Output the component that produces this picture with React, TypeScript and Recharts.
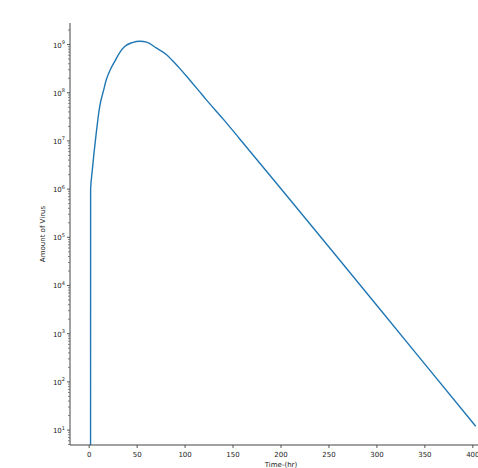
import { LineChart, Line, XAxis, YAxis, Label } from "recharts";

// values (hours, virus count)
const TIME_HR = [1.4, 1.5, 3, 5, 7, 11, 15, 18, 22, 27, 32, 37, 45, 53, 60, 70, 80, 88, 96, 105, 114, 122, 140, 157, 200, 250, 300, 350, 403];
const VIRUS = [
  0.001, 1e6, 2.2e6, 5.6e6, 1.26e7, 5.2e7, 1.12e8, 1.9e8, 3.0e8, 4.6e8, 6.9e8, 9.1e8, 1.1e9, 1.17e9, 1.12e9, 8.5e8,
  6.3e8, 4.4e8, 2.95e8, 1.82e8, 1.12e8, 7.2e7, 2.8e7, 1.1e7, 1.02e6, 6.3e4, 3.85e3, 234, 12,
];

const X_TICKS = [0, 50, 100, 150, 200, 250, 300, 350, 400];
const Y_DECADES = [1e1, 1e2, 1e3, 1e4, 1e5, 1e6, 1e7, 1e8, 1e9];
const Y_MINOR_MULT = [2, 3, 4, 5, 6, 7, 8, 9];

const Y_MIN = 4.9;
const Y_MAX = 2.8e9;

const Y_TICKS = [
  ...Y_DECADES,
  ...[1, ...Y_DECADES].flatMap((d) => Y_MINOR_MULT.map((m) => m * d)),
].filter((v) => v >= Y_MIN && v <= Y_MAX).sort((a, b) => a - b);

const data = TIME_HR.map((t, i) => ({ t, v: VIRUS[i] }));

const FONT = "DejaVu Sans, sans-serif";
const INK = "#222";
const SPINE = "#444";

function YTick(props: any) {
  const { x, y, payload } = props;
  const v = payload.value as number;
  const exp = Math.log10(v);
  const major = Math.abs(exp - Math.round(exp)) < 1e-6;
  return (
    <g>
      <line x1={x - (major ? 3 : 2)} x2={x} y1={y} y2={y} stroke={major ? SPINE : "#666"} strokeWidth={major ? 0.9 : 0.8} />
      {major && (
        <text x={x - 5} y={y + 3} textAnchor="end" fontSize={7} fontFamily={FONT} fill={INK}>
          10
          <tspan dy={-3.5} fontSize={5}>
            {Math.round(exp)}
          </tspan>
        </text>
      )}
    </g>
  );
}

function XTick(props: any) {
  const { x, y, payload } = props;
  return (
    <g>
      <line x1={x} x2={x} y1={y} y2={y + 3} stroke={SPINE} strokeWidth={0.9} />
      <text x={x} y={y + 11.5} textAnchor="middle" fontSize={7} fontFamily={FONT} fill={INK}>
        {payload.value}
      </text>
    </g>
  );
}

export default function App() {
  return (
    <div
      style={{
        position: "absolute",
        left: 0,
        top: 0,
        width: 478,
        height: 468,
        overflow: "hidden",
        background: "#fff",
      }}
    >
      <LineChart width={492} height={468} data={data} margin={{ top: 23, right: 0, bottom: 0, left: 0 }}>
        <XAxis
          xAxisId="top"
          orientation="top"
          type="number"
          dataKey="t"
          domain={[-20, 420]}
          height={0}
          tick={false}
          tickLine={false}
          axisLine={{ stroke: SPINE, strokeWidth: 1 }}
        >
          <Label
            content={({ viewBox }: any) => (
              <text
                x={viewBox.x + viewBox.width / 2}
                y={viewBox.y - 5}
                textAnchor="middle"
                fontSize={8.5}
                fontFamily={FONT}
                fill={INK}
              >
                Virus vs Time
              </text>
            )}
          />
        </XAxis>
        <XAxis
          dataKey="t"
          type="number"
          domain={[-20, 420]}
          ticks={X_TICKS}
          interval={0}
          allowDataOverflow
          height={23}
          tickSize={0}
          tickMargin={0}
          tickLine={false}
          tick={<XTick />}
          axisLine={{ stroke: SPINE, strokeWidth: 1 }}
        >
          <Label
            content={({ viewBox }: any) => (
              <text
                x={viewBox.x + viewBox.width / 2}
                y={viewBox.y + 21.5}
                textAnchor="middle"
                fontSize={7}
                fontFamily={FONT}
                fill={INK}
              >
                Time-(hr)
              </text>
            )}
          />
        </XAxis>
        <YAxis
          scale="log"
          type="number"
          domain={[Y_MIN, Y_MAX]}
          allowDataOverflow
          ticks={Y_TICKS}
          interval={0}
          width={70}
          tickSize={0}
          tickMargin={0}
          tickLine={false}
          tick={<YTick />}
          axisLine={{ stroke: SPINE, strokeWidth: 1 }}
        >
          <Label
            content={({ viewBox }: any) => {
              const cx = 42.7;
              const cy = viewBox.y + viewBox.height / 2;
              return (
                <text
                  x={cx}
                  y={cy}
                  transform={`rotate(-90 ${cx} ${cy})`}
                  textAnchor="middle"
                  dominantBaseline="middle"
                  fontSize={7}
                  fontFamily={FONT}
                  fill={INK}
                >
                  Amount of Virus
                </text>
              );
            }}
          />
        </YAxis>
        <Line
          type="monotone"
          dataKey="v"
          stroke="#1f77b4"
          strokeWidth={1.4}
          dot={false}
          isAnimationActive={false}
        />
      </LineChart>
    </div>
  );
}
